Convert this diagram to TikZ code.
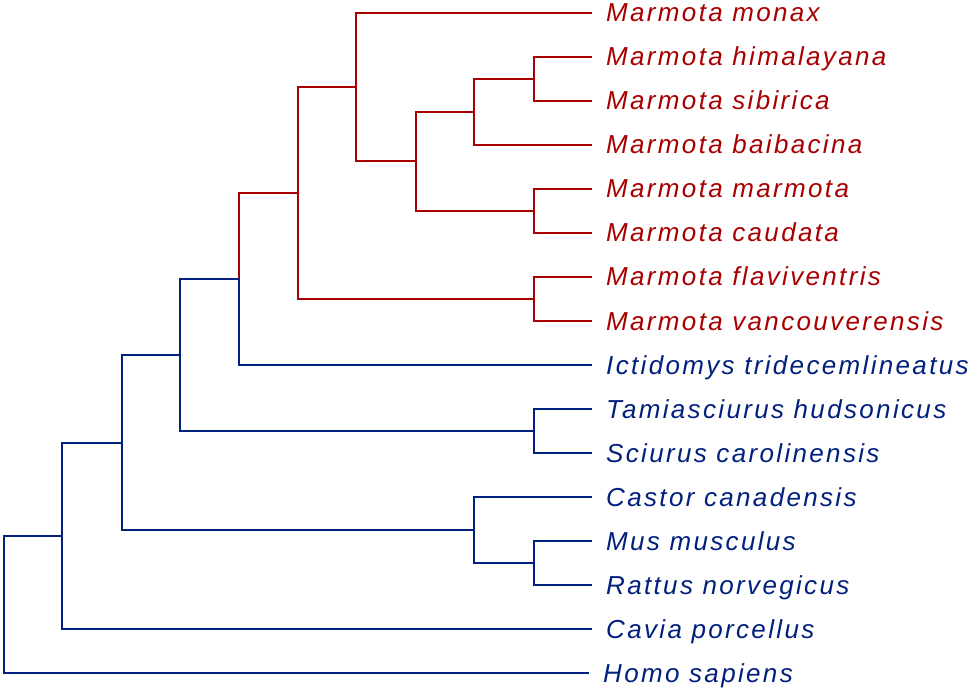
\documentclass[tikz,border=0pt]{standalone}
\usepackage{fontspec}
\setmainfont{Liberation Sans}
\newfontfamily\taxonfont[LetterSpace=9]{Liberation Sans}
\usepackage{tikz}
\definecolor{marmotred}{RGB}{168,0,0}
\definecolor{rodentblue}{RGB}{0,32,125}
\tikzset{
	redbranch/.style = {draw=marmotred, line width=2pt},
	bluebranch/.style = {draw=rodentblue, line width=2pt},
	taxon/.style = {anchor=base west, inner xsep=14pt, inner ysep=0pt, font=\taxonfont\fontsize{26}{26}\selectfont\itshape},
	redtip/.style = {taxon, text=marmotred},
	bluetip/.style = {taxon, text=rodentblue},
	tipend/.style = {yshift=9pt}
}
\begin{document}
\begin{tikzpicture}[x=1pt, y=-1pt]
		\useasboundingbox (0, 0) rectangle (976, 692);
		% leaves (baseline 9pt below the branch)
		\node [redtip] (monax) at (592, 22) {Marmota monax};
		\node [redtip] (himalayana) at (592, 66) {Marmota himalayana};
		\node [redtip] (sibirica) at (592, 110) {Marmota sibirica};
		\node [redtip] (baibacina) at (592, 154) {Marmota baibacina};
		\node [redtip] (marmota) at (592, 198) {Marmota marmota};
		\node [redtip] (caudata) at (592, 242) {Marmota caudata};
		\node [redtip] (flaviventris) at (592, 286) {Marmota flaviventris};
		\node [redtip] (vancouverensis) at (592, 330) {Marmota vancouverensis};
		\node [bluetip] (ictidomys) at (592, 374) {Ictidomys tridecemlineatus};
		\node [bluetip] (tamiasciurus) at (592, 418) {Tamiasciurus hudsonicus};
		\node [bluetip] (sciurus) at (592, 462) {Sciurus carolinensis};
		\node [bluetip] (castor) at (592, 506) {Castor canadensis};
		\node [bluetip] (mus) at (592, 550) {Mus musculus};
		\node [bluetip] (rattus) at (592, 594) {Rattus norvegicus};
		\node [bluetip] (cavia) at (592, 638) {Cavia porcellus};
		\node [bluetip] (homo) at (589, 682) {Homo sapiens};
		% inner nodes
		\coordinate (m4) at (534, 79);
		\coordinate (m3) at (474, 112);
		\coordinate (m5) at (534, 211);
		\coordinate (m2) at (416, 161.5);
		\coordinate (m1) at (356, 87.25);
		\coordinate (m6) at (534, 299);
		\coordinate (m0) at (298, 193.1);
		\coordinate (n4) at (239, 279);
		\coordinate (n10) at (534, 431);
		\coordinate (n3) at (180, 355);
		\coordinate (n9) at (534, 563);
		\coordinate (n8) at (474, 530);
		\coordinate (n2) at (122, 442.5);
		\coordinate (n1) at (62, 535.8);
		\coordinate (n0) at (4, 604.4);
		% marmots
		\draw [redbranch] (m4) |- ([tipend]himalayana.base west);
		\draw [redbranch] (m4) |- ([tipend]sibirica.base west);
		\draw [redbranch] (m3) |- (m4);
		\draw [redbranch] (m3) |- ([tipend]baibacina.base west);
		\draw [redbranch] (m5) |- ([tipend]marmota.base west);
		\draw [redbranch] (m5) |- ([tipend]caudata.base west);
		\draw [redbranch] (m2) |- (m3);
		\draw [redbranch] (m2) |- (m5);
		\draw [redbranch] (m1) |- ([tipend]monax.base west);
		\draw [redbranch] (m1) |- (m2);
		\draw [redbranch] (m6) |- ([tipend]flaviventris.base west);
		\draw [redbranch] (m6) |- ([tipend]vancouverensis.base west);
		\draw [redbranch] (m0) |- (m1);
		\draw [redbranch] (m0) |- (m6);
		\draw [redbranch] (n4) |- (m0);
		% other rodents
		\draw [bluebranch] (n4) |- ([tipend]ictidomys.base west);
		\draw [bluebranch] (n10) |- ([tipend]tamiasciurus.base west);
		\draw [bluebranch] (n10) |- ([tipend]sciurus.base west);
		\draw [bluebranch] (n3) |- (n4);
		\draw [bluebranch] (n3) |- (n10);
		\draw [bluebranch] (n9) |- ([tipend]mus.base west);
		\draw [bluebranch] (n9) |- ([tipend]rattus.base west);
		\draw [bluebranch] (n8) |- ([tipend]castor.base west);
		\draw [bluebranch] (n8) |- (n9);
		\draw [bluebranch] (n2) |- (n3);
		\draw [bluebranch] (n2) |- (n8);
		\draw [bluebranch] (n1) |- (n2);
		\draw [bluebranch] (n1) |- ([tipend]cavia.base west);
		\draw [bluebranch] (n0) |- (n1);
		\draw [bluebranch] (n0) |- ([tipend]homo.base west);
	\end{tikzpicture}
\end{document}
